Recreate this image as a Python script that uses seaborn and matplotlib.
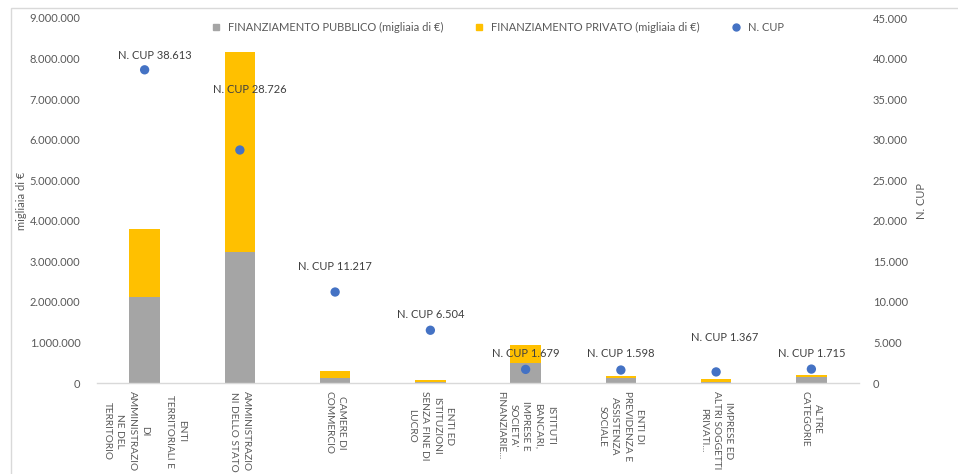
import matplotlib
matplotlib.use("Agg")
import matplotlib.pyplot as plt
import matplotlib.ticker as mticker
from matplotlib.lines import Line2D
from matplotlib.patches import Rectangle
import seaborn as sns
import pandas as pd

# data
categorie = [
    "ENTI\nTERRITORIALI E\n\nDI\nAMMINISTRAZIO\nNE DEL\nTERRITORIO",
    "AMMINISTRAZIO\nNI DELLO STATO",
    "CAMERE DI\nCOMMERCIO",
    "ENTI ED\nISTITUZIONI\nSENZA FINE DI\nLUCRO",
    "ISTITUTI\nBANCARI,\nIMPRESE E\nSOCIETA'\nFINANZIARIE...",
    "ENTI DI\nPREVIDENZA E\nASSISTENZA\nSOCIALE",
    "IMPRESE ED\nALTRI SOGGETTI\nPRIVATI...",
    "ALTRE\nCATEGORIE",
]
fin_pubblico = [2120000, 3230000, 120000, 30000, 490000, 120000, 15000, 140000]
fin_privato = [1680000, 4940000, 180000, 40000, 440000, 50000, 75000, 50000]
n_cup = [38613, 28726, 11217, 6504, 1679, 1598, 1367, 1715]

# label offsets (pixels) as placed in the original
label_dx = [10, 10, 0, 0, 0, 0, 9, 0]
label_dy = [14, 61, 26, 16, 16, 17, 34, 16]

GRAY = "#A5A5A5"
YELLOW = "#FFC000"
BLUE = "#4472C4"
TXT = "#595959"

sns.set_theme(style="white")
plt.rcParams["font.family"] = ["Lato", "DejaVu Sans"]

df = pd.DataFrame({
    "cat": categorie,
    "pub": fin_pubblico,
    "tot": [a + b for a, b in zip(fin_pubblico, fin_privato)],
    "cup": n_cup,
})

fig = plt.figure(figsize=(9.58, 4.74), dpi=100)
ax = fig.add_axes([97 / 958, 1 - 383 / 474, (859 - 97) / 958, (383 - 18) / 474])

sns.barplot(data=df, x="cat", y="tot", color=YELLOW, width=0.32, ax=ax,
            saturation=1, linewidth=0)
sns.barplot(data=df, x="cat", y="pub", color=GRAY, width=0.32, ax=ax,
            saturation=1, linewidth=0)
ax.set_ylim(0, 9000000)
ax.set_xlim(-0.5, len(categorie) - 0.5)

def dotted(v, pos=None):
    return f"{int(v):,}".replace(",", ".")

ax.yaxis.set_major_locator(mticker.MultipleLocator(1000000))
ax.yaxis.set_major_formatter(mticker.FuncFormatter(dotted))
ax.set_ylabel("migliaia di €", fontsize=8, color=TXT, labelpad=2)
ax.set_xlabel("")

ax2 = ax.twinx()
sns.scatterplot(data=df, x="cat", y="cup", color=BLUE, s=45, ax=ax2,
                edgecolor="none", zorder=5)
ax2.set_ylim(0, 45000)
ax2.yaxis.set_major_locator(mticker.MultipleLocator(5000))
ax2.yaxis.set_major_formatter(mticker.FuncFormatter(dotted))
ax2.set_ylabel("N. CUP", fontsize=8, color=TXT, labelpad=6)
ax2.set_xlim(-0.5, len(categorie) - 0.5)

for i, v in enumerate(n_cup):
    ax2.annotate(f"N. CUP {dotted(v)}", (i, v),
                 xytext=(label_dx[i], label_dy[i]), textcoords="offset pixels",
                 ha="center", va="center", fontsize=8, color="#404040", zorder=6)

ax.set_xticks(range(len(categorie)))
ax.set_xticklabels(categorie, rotation=-90, ha="center", va="top",
                   multialignment="center", fontsize=7.3, color=TXT,
                   linespacing=1.5)
ax.tick_params(axis="x", length=0, pad=6)
ax.tick_params(axis="y", length=0, labelsize=8, labelcolor=TXT, pad=12)
ax2.tick_params(axis="y", length=0, labelsize=8, labelcolor=TXT, pad=10)
ax2.tick_params(axis="x", length=0)

for a in (ax, ax2):
    for s in ("top", "left", "right", "bottom"):
        a.spines[s].set_visible(False)
ax.spines["bottom"].set_visible(True)
ax.spines["bottom"].set_color("#D9D9D9")
ax.spines["bottom"].set_linewidth(1)
ax.grid(False)
ax2.grid(False)

handles = [
    Line2D([], [], marker="s", linestyle="", color=GRAY, markersize=5),
    Line2D([], [], marker="s", linestyle="", color=YELLOW, markersize=5),
    Line2D([], [], marker="o", linestyle="", color=BLUE, markersize=5),
]
labels = ["FINANZIAMENTO PUBBLICO (migliaia di €)",
          "FINANZIAMENTO PRIVATO (migliaia di €)", "N. CUP"]
leg = fig.legend(handles, labels, loc="center", ncol=3,
                 bbox_to_anchor=(0.516, 1 - 27 / 474), frameon=False,
                 fontsize=8, handletextpad=0.1, columnspacing=2.2)
for t in leg.get_texts():
    t.set_color(TXT)

# outer chart border (cut at right/bottom like the screenshot)
fig.patches.append(Rectangle((11 / 958, -0.1), 1.2, 1 - 8 / 474 + 0.1,
                             transform=fig.transFigure, fill=False,
                             edgecolor="#D9D9D9", linewidth=1))

fig.savefig("out.png", dpi=100)
